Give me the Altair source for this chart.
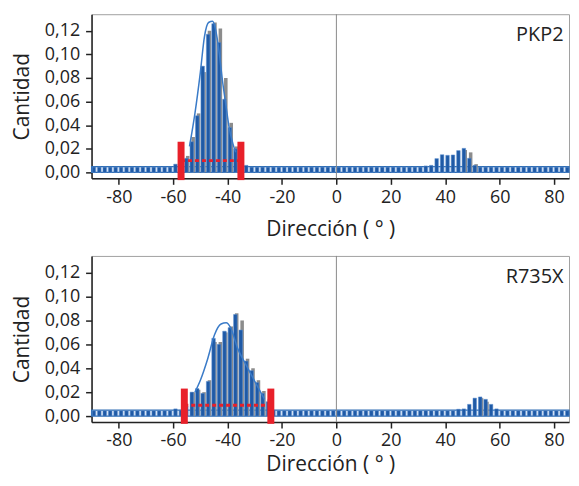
import altair as alt
import pandas as pd

# ---------------- data ----------------
centers = [-89, -87, -85, -83, -81, -79, -77, -75, -73, -71, -69, -67, -65, -63, -61,
           -59, -57, -55, -53, -51, -49, -47, -45, -43, -41, -39, -37, -35, -33,
           -31, -29, -27, -25, -23, -21, -19, -17, -15, -13, -11, -9, -7, -5, -3, -1,
           1, 3, 5, 7, 9, 11, 13, 15, 17, 19, 21, 23, 25, 27, 29, 31,
           33, 35, 37, 39, 41, 43, 45, 47, 49, 51,
           53, 55, 57, 59, 61, 63, 65, 67, 69, 71, 73, 75, 77, 79, 81, 83, 85]

top_blue = [0.0045, 0.0045, 0.0045, 0.0045, 0.0045, 0.0045, 0.0045, 0.0045, 0.0045, 0.0045, 0.0045, 0.0045, 0.0045, 0.0045, 0.0045,
            0.007, 0.005, 0.012, 0.026, 0.048, 0.090, 0.117, 0.126, 0.110, 0.062, 0.038, 0.020, 0.013, 0.006,
            0.0045, 0.0045, 0.0045, 0.0045, 0.0045, 0.0045, 0.0045, 0.0045, 0.0045, 0.0045, 0.0045, 0.0045, 0.0045, 0.0045, 0.0045, 0.0045,
            0.0045, 0.0045, 0.0045, 0.0045, 0.0045, 0.0045, 0.0045, 0.0045, 0.0045, 0.0045, 0.0045, 0.0045, 0.0045, 0.0045, 0.0045, 0.0045,
            0.0055, 0.006, 0.0117, 0.015, 0.0145, 0.0148, 0.0185, 0.0204, 0.012, 0.006,
            0.0045, 0.0045, 0.0045, 0.0045, 0.0045, 0.0045, 0.0045, 0.0045, 0.0045, 0.0045, 0.0045, 0.0045, 0.0045, 0.0045, 0.0045, 0.0045, 0.0045]

bot_blue = [0.0045, 0.0045, 0.0045, 0.0045, 0.0045, 0.0045, 0.0045, 0.0045, 0.0045, 0.0045, 0.0045, 0.0045, 0.0045, 0.0045, 0.0045,
            0.006, 0.005, 0.008, 0.020, 0.023, 0.019, 0.029, 0.065, 0.060, 0.071, 0.074, 0.085, 0.072, 0.046,
            0.038, 0.028, 0.019, 0.012, 0.005, 0.0045, 0.0045, 0.0045, 0.0045, 0.0045, 0.0045, 0.0045, 0.0045, 0.0045, 0.0045, 0.0045,
            0.0045, 0.0045, 0.0045, 0.0045, 0.0045, 0.0045, 0.0045, 0.0045, 0.0045, 0.0045, 0.0045, 0.0045, 0.0045, 0.0045, 0.0045, 0.0045,
            0.0045, 0.0045, 0.0045, 0.0045, 0.0045, 0.0045, 0.0057, 0.006, 0.0098, 0.015,
            0.016, 0.014, 0.0098, 0.006, 0.0045, 0.0045, 0.0045, 0.0045, 0.0045, 0.0045, 0.0045, 0.0045, 0.0045, 0.0045, 0.0045, 0.0045, 0.0045]

top_gray_x = [-55, -53, -51, -49, -47, -45, -43, -41, -39, -37, -35, 47, 49, 51]
top_gray_y = [0.014, 0.030, 0.050, 0.085, 0.120, 0.127, 0.122, 0.080, 0.042, 0.022, 0.012, 0.019, 0.017, 0.007]
bot_gray_x = [-53, -51, -49, -47, -45, -43, -41, -39, -37, -35, -33, -31, -29, -27, -25, 53, 55]
bot_gray_y = [0.020, 0.022, 0.020, 0.030, 0.062, 0.062, 0.070, 0.075, 0.086, 0.080, 0.048, 0.040, 0.030, 0.021, 0.014, 0.015, 0.012]

top_curve_x = [-54, -52, -50, -48.5, -47, -45.5, -44.5, -43, -42, -40.5, -39.5, -38, -37]
top_curve_y = [0.022, 0.050, 0.085, 0.115, 0.127, 0.128, 0.122, 0.100, 0.080, 0.055, 0.039, 0.024, 0.017]
bot_curve_x = [-52, -50, -47.3, -44.8, -42.4, -40.5, -38.9, -36.2, -33.7, -30, -26.4]
bot_curve_y = [0.020, 0.030, 0.048, 0.068, 0.077, 0.078, 0.074, 0.056, 0.045, 0.029, 0.014]

top_err = [-57.1, -35.1]   # red interval limits (degrees)
bot_err = [-55.9, -24.1]
top_err_height = 0.026
bot_err_height = 0.023
top_err_mid = 0.010
bot_err_mid = 0.009

panel_labels = ["PKP2", "R735X"]
x_ticks = [-80, -60, -40, -20, 0, 20, 40, 60, 80]
y_ticks = [0.0, 0.02, 0.04, 0.06, 0.08, 0.10, 0.12]

X_DOM = [-90, 85.5]
Y_DOM = [-0.005, 0.134]
FONT = "Open Sans"
BLUE = "#1f5aa6"
GRAY = "#8c8c8c"
RED = "#e8202a"


def panel(blue, gx, gy, cx, cy, err, err_h, err_mid, label, h, x_lab_pad, x_ext, x_title_pad):
    xs = alt.Scale(domain=X_DOM, nice=False, zero=False)
    ys = alt.Scale(domain=Y_DOM, nice=False, zero=False)
    xax = alt.Axis(values=x_ticks, labelExpr="'' + datum.value", title="Dirección ( ° )",
                   labelPadding=x_lab_pad, minExtent=x_ext, maxExtent=x_ext, titlePadding=x_title_pad)
    yax = alt.Axis(values=y_ticks, tickCount=20,
                   labelExpr="replace(format(datum.value, '.2f'), '.', ',')",
                   title="Cantidad", labelOverlap=False, labelPadding=6,
                   minExtent=52, maxExtent=52, titlePadding=7)

    band_df = pd.DataFrame({"x": [X_DOM[0]], "x2": [X_DOM[1]], "y": [0.0], "y2": [0.005]})
    band = alt.Chart(band_df).mark_rect(fill="#dce8f7", stroke="#2e6db4", strokeWidth=1.2).encode(
        x=alt.X("x:Q", scale=xs, axis=xax), x2="x2", y=alt.Y("y:Q", scale=ys, axis=yax), y2="y2")

    gdf = pd.DataFrame({"c": gx, "v": gy})
    gdf["lo"] = gdf["c"] - 0.3
    gdf["hi"] = gdf["c"] + 1.0
    gdf["z"] = 0.0
    gray = alt.Chart(gdf).mark_rect(color=GRAY).encode(
        x="lo:Q", x2="hi", y="z:Q", y2="v")

    bdf = pd.DataFrame({"c": centers, "v": blue})
    bdf["lo"] = bdf["c"] - 0.8
    bdf["hi"] = bdf["c"] + 0.5
    bdf["z"] = 0.0
    bars = alt.Chart(bdf).mark_rect(color=BLUE, stroke="#5d8fd0", strokeWidth=0.5).encode(
        x="lo:Q", x2="hi", y="z:Q", y2="v")

    cdf = pd.DataFrame({"x": cx, "y": cy})
    curve = alt.Chart(cdf).mark_line(color="#3a7bc8", strokeWidth=1.5, interpolate="monotone").encode(
        x="x:Q", y="y:Q")

    zero = alt.Chart(pd.DataFrame({"x": [0]})).mark_rule(color="#8a8a8a", strokeWidth=1).encode(x="x:Q")

    mdf = pd.DataFrame({"x": [err[0]], "x2": [err[1]], "y": [err_mid]})
    mid = alt.Chart(mdf).mark_rule(color=RED, strokeWidth=3, strokeDash=[4, 3]).encode(
        x="x:Q", x2="x2", y="y:Q")

    edf = pd.DataFrame({"x": err, "y": [-0.0065, -0.0065], "y2": [err_h, err_h]})
    ends = alt.Chart(edf).mark_rule(color=RED, strokeWidth=7).encode(x="x:Q", y="y:Q", y2="y2")

    tdf = pd.DataFrame({"x": [83.5], "y": [0.116], "t": [label]})
    text = alt.Chart(tdf).mark_text(align="right", baseline="middle", font=FONT, fontSize=20,
                                    color="#222").encode(x="x:Q", y="y:Q", text="t:N")

    return alt.layer(band, gray, bars, curve, zero, mid, ends, text).properties(width=480, height=h)


top = panel(top_blue, top_gray_x, top_gray_y, top_curve_x, top_curve_y, top_err,
            top_err_height, top_err_mid, panel_labels[0], 165, 4, 28, 12)
bot = panel(bot_blue, bot_gray_x, bot_gray_y, bot_curve_x, bot_curve_y, bot_err,
            bot_err_height, bot_err_mid, panel_labels[1], 167, 4, 28, 4)

chart = alt.vconcat(top, bot, spacing=15).properties(
    padding={"left": 3, "top": 4, "right": 0, "bottom": 0}
).configure_view(stroke="#a0a0a0", strokeWidth=1).configure_axis(
    grid=False, domainColor="#222", domainWidth=1.5, tickColor="#222", tickSize=6, tickWidth=1.5,
    labelFont=FONT, labelFontSize=18, labelColor="#222", labelOverlap=False,
    titleFont=FONT, titleFontSize=21, titleFontWeight="normal", titleColor="#222"
)

chart.save("out.html", embed_options={"renderer": "svg", "actions": False})
